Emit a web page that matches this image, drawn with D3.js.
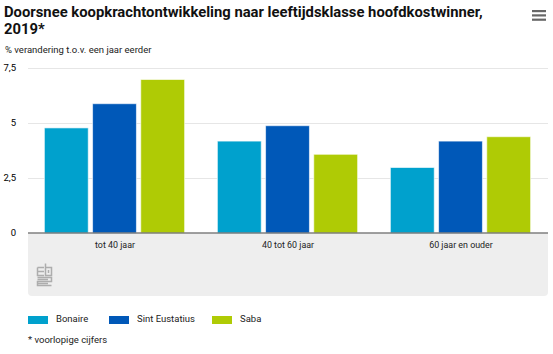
<!DOCTYPE html>
<html><head><meta charset="utf-8">
<script src="https://cdn.jsdelivr.net/npm/d3@7"></script>
<style>html,body{margin:0;padding:0;background:#fff}svg{display:block}text{font-family:Roboto,"Noto Sans",sans-serif}</style>
</head><body><svg id="c" width="553" height="354"></svg>
<script>
const categories = ["tot 40 jaar","40 tot 60 jaar","60 jaar en ouder"];
const seriesNames = ["Bonaire","Sint Eustatius","Saba"];
const seriesColors = ["#00a1cd","#0058b8","#afcb05"];
const bonaire = [4.8,4.2,3.0];
const sintEustatius = [5.9,4.9,4.2];
const saba = [7.0,3.6,4.4];
const yTicks = [0,2.5,5,7.5];
const tickLabels = ["0","2,5","5","7,5"];
const values = [bonaire,sintEustatius,saba];

const svg = d3.select("#c");
const x0 = d3.scaleBand().domain(categories).range([28,547]).paddingInner(0).paddingOuter(0);
const x1 = d3.scaleBand().domain(seriesNames).range([0,x0.bandwidth()]).paddingInner(0.09).paddingOuter(0.34);
const y = d3.scaleLinear().domain([0,7.5]).range([233,68]);

svg.append("path").attr("fill","#eeeeee")
  .attr("d","M28,233H548V292Q548,296 544,296H32Q28,296 28,292Z");

svg.append("g").selectAll("line").data(yTicks.slice(1)).join("line")
  .attr("x1",28).attr("x2",548).attr("y1",d=>y(d)+.5).attr("y2",d=>y(d)+.5)
  .attr("stroke","#e6e6e6").attr("stroke-width",1);
svg.append("g").selectAll("text").data(yTicks).join("text")
  .attr("x",16).attr("y",d=>y(d)+3).attr("text-anchor","end")
  .attr("font-size",9.5).attr("fill","#000").text((d,i)=>tickLabels[i]);

seriesNames.forEach((s,si)=>{
  svg.append("g").selectAll("rect").data(values[si]).join("rect")
    .attr("x",(d,i)=>x0(categories[i])+x1(s))
    .attr("width",x1.bandwidth())
    .attr("y",d=>y(d)+.5).attr("height",d=>y(0)-y(d))
    .attr("fill",seriesColors[si])
    .attr("stroke","#fff").attr("stroke-opacity",.6).attr("stroke-width",1);
});
svg.append("line").attr("x1",28).attr("x2",548).attr("y1",233).attr("y2",233).attr("stroke","#7f7f7f").attr("stroke-width",1.5);

svg.append("g").selectAll("text").data(categories).join("text")
  .attr("x",d=>x0(d)+x0.bandwidth()/2+.5).attr("y",248).attr("text-anchor","middle")
  .attr("font-size",8.9).attr("fill","#222").text(d=>d);

const title = svg.append("text").attr("font-size",14.8).attr("font-weight",700).attr("fill","#111");
title.append("tspan").attr("x",4).attr("y",17).text("Doorsnee koopkrachtontwikkeling naar leeftijdsklasse hoofdkostwinner,");
title.append("tspan").attr("x",4).attr("y",34).text("2019*");
svg.append("text").attr("x",5).attr("y",53).attr("font-size",9.5).attr("fill","#222").text("% verandering t.o.v. een jaar eerder");

svg.append("g").selectAll("rect").data([0,1,2]).join("rect")
  .attr("x",532).attr("width",14).attr("height",2.2).attr("y",d=>10+d*4.3).attr("fill","#666");

svg.append("path").attr("fill","none").attr("stroke","#adadad").attr("stroke-width",1.5)
  .attr("d","M37.5,267.5H44M37.5,267.5V275.5H44M37.5,271.5H44M45.5,263.5V275.5H51.5V267.5H45.5M48.5,270V273M37.5,277.5H51.5V281.5H37.5V285.5H51.5M37.5,279.5H48M37.5,283.5H48");

const legendX = [28,109,212], legendTextX = [56,137,240];
seriesNames.forEach((s,i)=>{
  svg.append("rect").attr("x",legendX[i]).attr("y",316).attr("width",20).attr("height",8).attr("fill",seriesColors[i]);
  svg.append("text").attr("x",legendTextX[i]).attr("y",322).attr("font-size",9.5).attr("fill","#222").text(s);
});
svg.append("text").attr("x",28).attr("y",343).attr("font-size",9.5).attr("fill","#222").text("* voorlopige cijfers");
</script></body></html>
